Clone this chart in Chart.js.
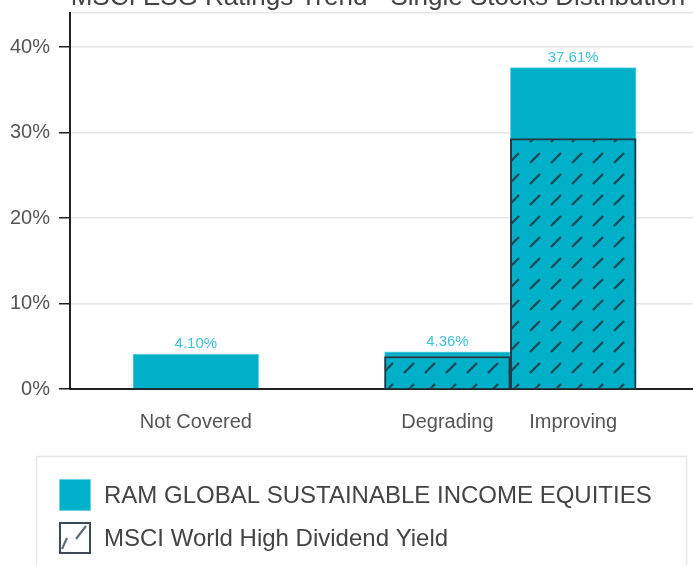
<!DOCTYPE html>
<html>
<head>
<meta charset="utf-8">
<script src="https://cdn.jsdelivr.net/npm/chart.js@4.4.1/dist/chart.umd.min.js"></script>
<style>
  html, body { margin: 0; padding: 0; background: #fff; overflow: hidden; }
  #wrap { position: relative; width: 720px; height: 565px; }
</style>
</head>
<body>
<div id="wrap"><canvas id="esgChart" width="720" height="565"></canvas></div>
<script>
/* ── DATA ────────────────────────────────────────────────── */
const CHART_TITLE = 'MSCI ESG Ratings Trend - Single Stocks Distribution';
const CATEGORIES  = ['', 'Not Covered', '', 'Degrading', 'Improving', ''];
const RAM_LABEL   = 'RAM GLOBAL SUSTAINABLE INCOME EQUITIES';
const RAM_VALUES  = [null, 4.10, null, 4.36, 37.61, null];
const MSCI_LABEL  = 'MSCI World High Dividend Yield';
const MSCI_VALUES = [null, 0, null, 3.8, 29.3, null];
const Y_TICKS     = [0, 10, 20, 30, 40];
const Y_MAX       = 44;

/* ── STYLE ───────────────────────────────────────────────── */
const RAM_COLOR  = '#00b0c8';
const RAM_EDGE   = '#6fd5e4';
const MSCI_EDGE  = '#263a45';
const HATCH_INK  = 'rgba(30,50,60,0.8)';
const LABEL_CYAN = '#3cc3d9';
const FONT = '"Liberation Sans", Arial, sans-serif';

Chart.defaults.font.family = FONT;

const canvas = document.getElementById('esgChart');
const ctx0 = canvas.getContext('2d');

function hatchPattern(bg) {
    const tile = document.createElement('canvas');
    tile.width = 21; tile.height = 21;
    const t = tile.getContext('2d');
    t.fillStyle = bg; t.fillRect(0, 0, 21, 21);
    t.strokeStyle = HATCH_INK; t.lineWidth = 2.4;
    t.beginPath(); t.moveTo(5, 16); t.lineTo(15, 6); t.stroke();
    return ctx0.createPattern(tile, 'repeat');
}

/* ── PLUGINS ─────────────────────────────────────────────── */
const titlePlugin = {
    id: 'cutTitle',
    afterDraw(chart) {
        const c = chart.ctx;
        c.save();
        c.font = '26px ' + FONT;
        c.fillStyle = '#444';
        c.textAlign = 'center';
        c.textBaseline = 'alphabetic';
        c.fillText(CHART_TITLE, 378, 5);
        c.restore();
    }
};

const valueLabels = {
    id: 'valueLabels',
    afterDatasetsDraw(chart) {
        const c = chart.ctx;
        const meta = chart.getDatasetMeta(0);
        c.save();
        c.font = '15px ' + FONT;
        c.fillStyle = LABEL_CYAN;
        c.textAlign = 'center';
        c.textBaseline = 'alphabetic';
        meta.data.forEach((bar, i) => {
            const v = RAM_VALUES[i];
            if (v === null) return;
            c.fillText(v.toFixed(2) + '%', bar.x, bar.y - 6);
        });
        c.restore();
    }
};

const boxLegend = {
    id: 'boxLegend',
    afterDraw(chart) {
        const c = chart.ctx;
        c.save();
        /* frame */
        c.strokeStyle = '#e8e8e8'; c.lineWidth = 1.5;
        c.strokeRect(36.5, 456.5, 650, 140);

        c.font = '24px ' + FONT;
        c.textBaseline = 'middle';

        /* RAM */
        c.fillStyle = RAM_COLOR;
        c.fillRect(59, 479, 32, 32);
        c.strokeStyle = RAM_EDGE; c.lineWidth = 1;
        c.strokeRect(59.5, 479.5, 31, 31);
        c.fillStyle = '#444';
        c.fillText(chart.data.datasets[0].label, 104, 496);

        /* MSCI */
        c.fillStyle = '#fff';
        c.fillRect(59, 522, 32, 32);
        c.strokeStyle = 'rgba(60,75,85,0.8)'; c.lineWidth = 2.2;
        c.beginPath();
        c.moveTo(62, 549); c.lineTo(67, 538);
        c.moveTo(76, 539); c.lineTo(86, 526);
        c.stroke();
        c.strokeStyle = '#3d4a55'; c.lineWidth = 2;
        c.strokeRect(60, 523, 30, 30);
        c.fillStyle = '#444';
        c.fillText(chart.data.datasets[1].label, 104, 539);
        c.restore();
    }
};

/* ── CHART ───────────────────────────────────────────────── */
new Chart(ctx0, {
    type: 'bar',
    data: {
        labels: CATEGORIES,
        datasets: [
            {
                label: RAM_LABEL, data: RAM_VALUES,
                backgroundColor: RAM_COLOR, borderColor: RAM_EDGE, borderWidth: 1,
                barPercentage: 1, categoryPercentage: 1, order: 2
            },
            {
                label: MSCI_LABEL, data: MSCI_VALUES,
                backgroundColor: hatchPattern(RAM_COLOR), borderColor: MSCI_EDGE, borderWidth: 2,
                barPercentage: 1, categoryPercentage: 1, order: 1
            }
        ]
    },
    options: {
        responsive: false,
        animation: false,
        layout: { padding: { left: 1, right: 20, top: 13, bottom: 110 } },
        plugins: {
            legend: { display: false },
            title: { display: false },
            tooltip: { enabled: false }
        },
        scales: {
            x: {
                stacked: true, offset: false,
                grid: { display: false, drawTicks: false },
                border: { color: '#222', width: 2 },
                ticks: { color: '#555', font: { size: 20 }, padding: 21, autoSkip: false, maxRotation: 0 }
            },
            xTop: {
                type: 'category', position: 'top',
                grid: { display: false, drawTicks: false },
                border: { color: '#e6e6e6', width: 1.5 },
                ticks: { display: false }
            },
            y: {
                min: 0, max: Y_MAX,
                afterBuildTicks: s => { s.ticks = Y_TICKS.map(v => ({ value: v })); },
                afterFit: s => { s.paddingTop = 0; },
                ticks: { color: '#555', font: { size: 20 }, padding: 9, callback: v => v + '%' },
                grid: { color: '#e6e6e6', lineWidth: 1.5, tickLength: 11, tickColor: '#222', tickWidth: 1.5 },
                border: { color: '#222', width: 2 }
            }
        }
    },
    plugins: [valueLabels, titlePlugin, boxLegend]
});
</script>
</body>
</html>
